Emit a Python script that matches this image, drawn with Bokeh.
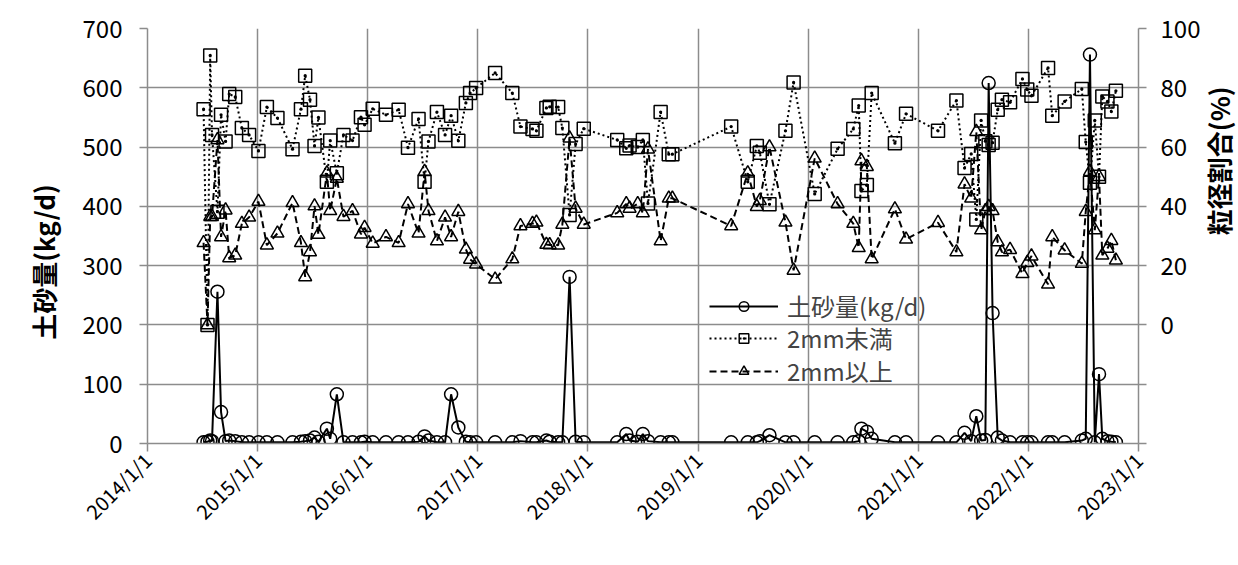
import math
import pandas as pd
from bokeh.plotting import figure
from bokeh.layouts import row
from bokeh.core.properties import value
from bokeh.models import (Range1d, LinearAxis, FixedTicker, CustomJSTickFormatter,
                          Legend, LegendItem, ColumnDataSource)
from bokeh.embed import file_html
from bokeh.resources import INLINE

# ---- data ----
dates = [
    "2014-07-06", "2014-07-19", "2014-07-28", "2014-08-03", "2014-08-21", "2014-09-02",
    "2014-09-17", "2014-09-29", "2014-10-19", "2014-11-10", "2014-12-04",
    "2015-01-04", "2015-02-01", "2015-03-08", "2015-04-27", "2015-05-25", "2015-06-08",
    "2015-06-24", "2015-07-09", "2015-07-22", "2015-08-19", "2015-08-30", "2015-09-21",
    "2015-10-13", "2015-11-12", "2015-12-10", "2015-12-22",
    "2016-01-18", "2016-03-02", "2016-04-13", "2016-05-14", "2016-06-18", "2016-07-08",
    "2016-07-21", "2016-08-18", "2016-09-14", "2016-10-04", "2016-10-28", "2016-11-22",
    "2016-12-06", "2016-12-26",
    "2017-02-27", "2017-04-25", "2017-05-22", "2017-07-01", "2017-07-14", "2017-08-16",
    "2017-08-27", "2017-09-24", "2017-10-08", "2017-11-01", "2017-11-21", "2017-12-18",
    "2018-04-08", "2018-05-08", "2018-05-19", "2018-06-15", "2018-07-02", "2018-07-19",
    "2018-08-30", "2018-09-26", "2018-10-08",
    "2019-04-21", "2019-06-15", "2019-07-15", "2019-07-25", "2019-08-26", "2019-10-18",
    "2019-11-14",
    "2020-01-23", "2020-04-08", "2020-05-30", "2020-06-17", "2020-06-26", "2020-07-14",
    "2020-07-30", "2020-10-15", "2020-11-21",
    "2021-03-07", "2021-05-07", "2021-06-03", "2021-06-25", "2021-07-12", "2021-07-28",
    "2021-08-11", "2021-08-22", "2021-09-04", "2021-09-21", "2021-10-05", "2021-11-01",
    "2021-12-12", "2021-12-28",
    "2022-01-11", "2022-03-07", "2022-03-21", "2022-05-01", "2022-06-27", "2022-07-10",
    "2022-07-24", "2022-08-09", "2022-08-23", "2022-09-03", "2022-09-20", "2022-10-03",
    "2022-10-18",
]

sediment = [
    2, 3, 5, 4, 256, 53, 4, 5, 4, 2, 2,
    2, 2, 2, 2, 3, 4, 5, 10, 3, 25, 8, 83, 2, 2, 2, 3,
    2, 2, 2, 2, 3, 12, 5, 2, 2, 83, 27, 3, 2, 2,
    2, 2, 4, 2, 2, 5, 3, 2, 2, 281, 3, 2,
    2, 16, 5, 3, 16, 4, 2, 2, 2,
    2, 2, 2, 4, 14, 2, 2,
    2, 2, 2, 4, 25, 20, 8, 2, 2,
    2, 2, 18, 4, 46, 5, 6, 608, 220, 10, 5, 2, 2, 2,
    2, 2, 2, 2, 5, 8, 656, 2, 117, 8, 4, 3, 2,
]

fine = [
    72.8, 0, 90.9, 64.1, 38.2, 70.9, 61.9, 77.9, 76.9, 66.4, 64.1,
    58.7, 73.5, 69.8, 59.3, 72.8, 84.1, 76.0, 60.4, 70.0, 48.3, 62.2, 51.2, 64.1, 62.2, 70.1, 67.5,
    72.9, 70.9, 72.6, 59.8, 69.5, 48.3, 61.9, 71.8, 64.1, 70.6, 62.1, 74.9, 78.2, 79.9,
    85.0, 78.2, 66.9, 66.1, 65.5, 73.2, 73.6, 73.5, 66.4, 37.1, 61.0, 66.2,
    62.4, 59.6, 60.5, 60.0, 62.4, 41.0, 71.8, 57.6, 57.6,
    66.9, 48.3, 60.4, 58.1, 40.7, 65.5, 81.8,
    44.2, 59.4, 66.1, 74.0, 45.2, 47.2, 78.2, 61.3, 71.2,
    65.5, 75.7, 52.9, 57.7, 35.6, 69.0, 62.0, 60.7, 61.5, 72.6, 76.0, 75.1, 83.0, 79.4,
    77.3, 86.7, 70.6, 75.4, 79.6, 61.7, 48.0, 69.0, 50.0, 77.1, 75.4, 72.0, 79.0,
]

coarse = [
    27.7, 0, 36.5, 36.5, 62.4, 29.7, 38.7, 22.6, 23.5, 34.2, 36.3,
    41.6, 26.9, 30.9, 41.2, 27.7, 16.2, 24.6, 40.1, 30.5, 51.2, 38.5, 49.4, 36.5, 38.5, 30.6, 32.8,
    27.5, 29.7, 27.7, 40.8, 30.9, 51.7, 38.5, 28.3, 36.3, 29.7, 38.2, 25.5, 22.1, 20.5,
    15.4, 22.2, 33.4, 34.2, 34.6, 27.1, 27.0, 26.9, 33.9, 63.0, 39.3, 33.9,
    37.8, 40.8, 39.3, 40.8, 37.8, 59.3, 28.3, 42.7, 42.7,
    33.4, 51.2, 39.9, 41.9, 60.0, 34.6, 18.4,
    56.2, 40.8, 34.2, 26.0, 55.3, 53.4, 22.2, 39.1, 28.9,
    34.5, 24.6, 47.5, 42.7, 65.2, 32.0, 38.5, 39.9, 38.5, 28.0, 24.6, 25.4, 17.3, 21.0,
    23.2, 13.7, 29.7, 25.2, 20.7, 38.2, 51.7, 32.0, 50.0, 23.5, 25.8, 28.4, 21.8,
]

year_ticks = ["2014-01-01", "2015-01-01", "2016-01-01", "2017-01-01", "2018-01-01",
              "2019-01-01", "2020-01-01", "2021-01-01", "2022-01-01", "2023-01-01"]
left_ticks = [0, 100, 200, 300, 400, 500, 600, 700]
right_ticks = [-40, -20, 0, 20, 40, 60, 80, 100]

series_names = ["土砂量(kg/d)", "2mm未満", "2mm以上"]
left_label = "土砂量(kg/d)"
right_label = "粒径割合(%)"

# ---- build ----
FONT = "Noto Sans CJK JP"
GRID = "#8c8c8c"
IDSP = "\u3000"  # ideographic space, only shifts the left title along its axis

src = ColumnDataSource(dict(x=pd.to_datetime(dates), sed=sediment, fine=fine, coarse=coarse))
tick_ms = [pd.Timestamp(t).value // 10**6 for t in year_ticks]

W, H = 1203, 552
p = figure(width=W, height=H, x_axis_type="datetime",
           x_range=Range1d(tick_ms[0], tick_ms[-1]), y_range=Range1d(0, 700),
           output_backend="svg", toolbar_location=None,
           min_border_left=147, min_border_right=W - 1139, min_border_top=28,
           min_border_bottom=H - 443)
p.outline_line_color = None
p.background_fill_color = "white"
p.border_fill_color = "white"
p.extra_y_ranges = {"pct": Range1d(-40, 100)}

xa = p.xaxis[0]
xa.ticker = FixedTicker(ticks=tick_ms)
xa.formatter = CustomJSTickFormatter(code="""
const d = new Date(tick);
return d.getUTCFullYear() + "/" + (d.getUTCMonth() + 1) + "/" + d.getUTCDate();
""")
xa.major_label_orientation = 0.785398
ya = p.yaxis[0]
ya.ticker = FixedTicker(ticks=left_ticks)
ya.axis_label = left_label + IDSP * 2

ra = LinearAxis(y_range_name="pct", ticker=FixedTicker(ticks=right_ticks),
                formatter=CustomJSTickFormatter(code="return tick < 0 ? '' : tick.toString();"))
p.add_layout(ra, "right")

for ax in (xa, ya, ra):
    ax.axis_line_color = GRID
    ax.axis_line_width = 1.5
    ax.major_tick_line_color = GRID
    ax.major_tick_line_width = 1.5
    ax.major_tick_out = 8
    ax.major_tick_in = 0
    ax.minor_tick_line_color = None
    ax.major_label_text_font = FONT
    ax.major_label_text_font_size = "24px"
    ax.major_label_text_color = "black"
    ax.axis_label_text_font = FONT
    ax.axis_label_text_font_size = "26px"
    ax.axis_label_text_font_style = "bold"
    ax.axis_label_text_color = "black"
xa.major_label_text_font_size = "20px"
ya.major_label_standoff = 17
ya.axis_label_standoff = 18
ra.major_label_standoff = 14

p.xgrid.ticker = FixedTicker(ticks=tick_ms)
p.ygrid.ticker = FixedTicker(ticks=left_ticks)
for g in (p.xgrid, p.ygrid):
    g.grid_line_color = GRID
    g.grid_line_width = 1.5

sed_line = p.line("x", "sed", source=src, line_color="black", line_width=2)
sed_pts = p.scatter("x", "sed", source=src, marker="circle", size=13,
                    line_color="black", line_width=1.5, fill_color=None)
fine_line = p.line("x", "fine", source=src, y_range_name="pct", line_color="black",
                   line_width=2, line_dash="2 3")
fine_pts = p.scatter("x", "fine", source=src, y_range_name="pct", marker="square_dot", size=13,
                     line_color="black", line_width=1.5, fill_color=None)
coarse_line = p.line("x", "coarse", source=src, y_range_name="pct", line_color="black",
                     line_width=2, line_dash="7 4")
coarse_pts = p.scatter("x", "coarse", source=src, y_range_name="pct", marker="triangle", size=13,
                       line_color="black", line_width=1.5, fill_color=None)

# one legend box per row so the row pitch matches the reference
legend_rows = [
    (series_names[0], [sed_line, sed_pts], 120),
    (series_names[1], [fine_line, fine_pts], 88),
    (series_names[2], [coarse_line, coarse_pts], 55),
]
for name, rends, ly in legend_rows:
    lg = Legend(items=[LegendItem(label=name, renderers=rends)], location=(562, ly))
    lg.label_text_font = FONT
    lg.label_text_font_size = "24px"
    lg.glyph_width = 69
    lg.glyph_height = 24
    lg.label_height = 24
    lg.label_standoff = 9
    lg.padding = 0
    lg.margin = 0
    lg.border_line_alpha = 0
    lg.background_fill_alpha = 0
    p.add_layout(lg)

# right-hand title, reading bottom-to-top like the reference
LW = 33
lab = figure(width=LW, height=H, x_range=Range1d(0, LW), y_range=Range1d(0, H),
             output_backend="svg", toolbar_location=None, min_border=0,
             x_axis_location=None, y_axis_location=None)
lab.outline_line_color = None
lab.xgrid.visible = False
lab.ygrid.visible = False
lab.background_fill_color = "white"
lab.border_fill_color = "white"
lab.text(x=[15], y=[H - 176], text=[right_label], angle=math.pi / 2,
         text_align="center", text_baseline="middle", text_color="black",
         text_font=value(FONT), text_font_size=value("26px"), text_font_style=value("bold"))

layout = row(p, lab)
open("out.html", "w").write(file_html(layout, INLINE))
